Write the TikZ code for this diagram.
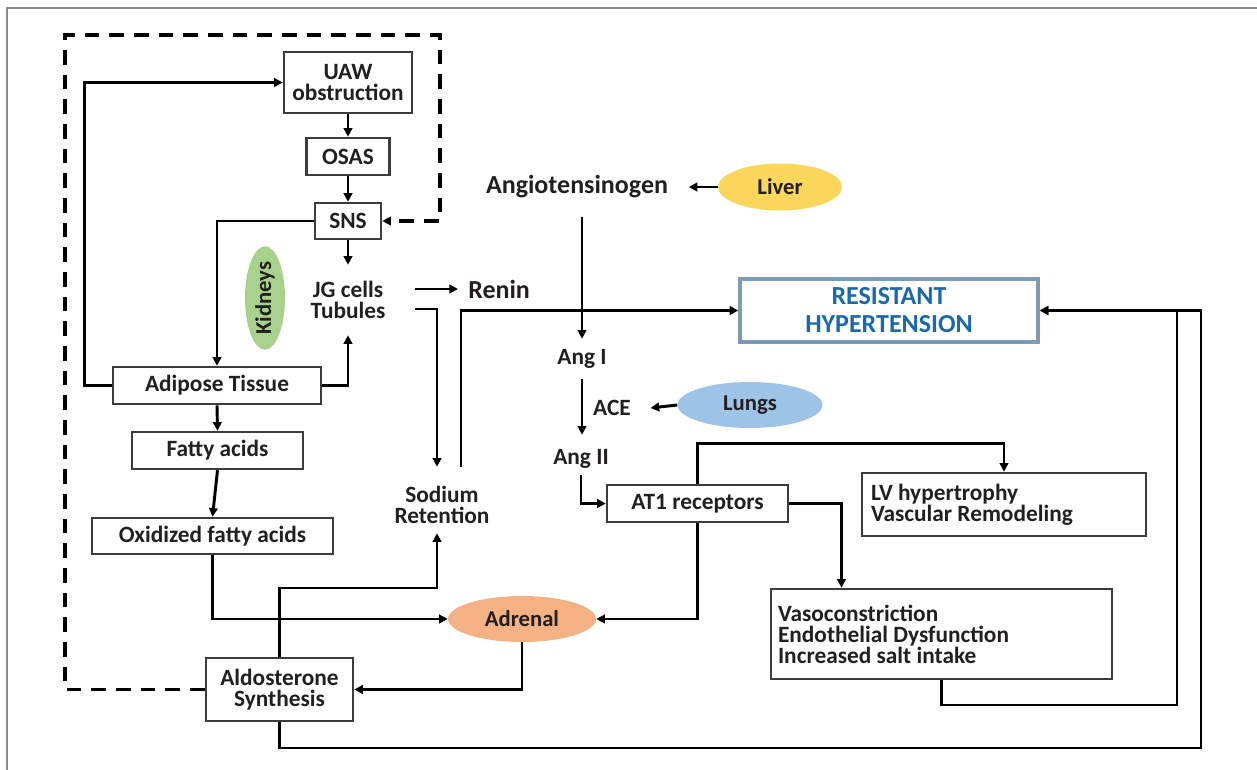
\documentclass[tikz,border=0pt]{standalone}
\usepackage{fontspec}
\setmainfont{Carlito}
\usetikzlibrary{arrows.meta,shapes.geometric}
\definecolor{txt}{RGB}{35,31,32}
\definecolor{boxc}{RGB}{60,60,60}
\definecolor{resc}{RGB}{125,155,180}
\definecolor{resblue}{RGB}{25,105,175}
\definecolor{kidc}{RGB}{169,209,142}
\definecolor{adrc}{RGB}{244,177,131}
\definecolor{livc}{RGB}{250,214,90}
\definecolor{lungc}{RGB}{157,195,230}
\definecolor{framec}{RGB}{140,140,140}
\newcommand{\fb}{\fontsize{17.5}{15.75}\selectfont\bfseries\lineskiplimit=-20pt}
\newcommand{\fe}{\fontsize{17}{15.75}\selectfont\bfseries}
\newcommand{\fbig}{\fontsize{19.5}{21}\selectfont\bfseries\lineskiplimit=-20pt}
\tikzset{
  sz/.style n args={2}{minimum width=#1*0.75pt, minimum height=#2*0.75pt},
  box/.style={draw=boxc, line width=1.9pt, fill=white, text=txt, font=\fb, align=flush center, inner sep=0pt},
  resbox/.style={draw=resc, line width=2.6pt, fill=white, text=resblue, font=\fbig, align=flush center, inner sep=0pt},
  tx/.style={text=txt, font=\fb, align=flush center, inner sep=0pt},
  ell/.style={ellipse, inner sep=0pt, text=txt, font=\fe},
  arr/.style={line width=2.2pt, draw=black, -{Triangle[length=6.5pt,width=6.5pt]}},
  dsh/.style={line width=2.5pt, draw=black, dash pattern=on 11pt off 7.5pt, -{Triangle[length=6.5pt,width=6.5pt]}},
  framel/.style={draw=framec, line width=1.5pt}
}
\begin{document}
\begin{tikzpicture}[x=0.75pt,y=-0.75pt]
\useasboundingbox (0,0) rectangle (1257,770);
\draw[framel] (7,770) -- (7,8) -- (1257,8);

% nodes
\node[box, sz={128}{61}] (uaw) at (348,82.5) {UAW\\obstruction};
\node[box, sz={83}{37}] (osas) at (348,156.5) {OSAS};
\node[box, sz={66}{36}] (sns) at (348,221) {SNS};
\node[tx, sz={1}{70}, inner xsep=21.75pt] (jg) at (348,300) {JG cells\\Tubules};
\node[ell, fill=kidc, sz={90}{40}, rotate=90] (kid) at (265,298) {Kidneys};
\node[tx, anchor=west, inner xsep=7.5pt, font=\fbig] (renin) at (458,289) {Renin};
\node[box, sz={208}{37}] (adip) at (217,385.5) {Adipose Tissue};
\node[box, sz={171}{37}] (fa) at (217.5,450.5) {Fatty acids};
\node[box, sz={241}{36}] (oxfa) at (212.5,536) {Oxidized fatty acids};
\node[tx, sz={1}{76}] (sodium) at (442,505) {Sodium\\Retention};
\node[box, sz={147}{63}] (ald) at (279.5,689.5) {Aldosterone\\Synthesis};
\node[ell, fill=adrc, sz={148}{46}] (adr) at (522,619) {Adrenal};
\node[tx, font=\fbig, sz={1}{60}, inner xsep=15.4pt] (ang) at (577,187) {Angiotensinogen};
\node[ell, fill=livc, sz={124}{47}] (liver) at (780,187) {Liver};
\node[resbox, sz={298}{63}] (res) at (889,310.5) {RESISTANT\\HYPERTENSION};
\node[tx, sz={1}{40}] (ang1) at (582,359) {Ang I};
\node[tx, inner xsep=14.6pt] (ace) at (612,408) {ACE};
\node[ell, fill=lungc, sz={145}{46}] (lungs) at (750,405) {Lungs};
\node[tx, sz={1}{48}] (ang2) at (581,459) {Ang II};
\node[box, sz={181}{37}] (at1) at (697.5,503.5) {AT1 receptors};
\node[box, sz={284}{63}, align=flush left, text width=199.5pt, inner xsep=6.75pt] (lv) at (1004,504.5) {LV hypertrophy\\Vascular Remodeling};
\node[box, sz={341}{90}, align=flush left, text width=245.25pt, inner xsep=5.25pt] (vaso) at (941.5,634) {Vasoconstriction\\Endothelial Dysfunction\\Increased salt intake};

% corner coordinates
\coordinate (dA) at (65,689.5);
\coordinate (dB) at (65,35);
\coordinate (dC) at (440,35);
\coordinate (dD) at (440,221);
\coordinate (v1) at (1177,705);
\coordinate (v2) at (1201,748);

% dashed feedback
\draw[dsh] (ald.west) -- (dA) -- (dB) -- (dC) -- (dD) -- (sns.east);

% connectors
\draw[arr] (uaw.south) -- (osas.north);
\draw[arr] (osas.south) -- (sns.north);
\draw[arr] (sns.south) -- (jg.north);
\draw[arr] (sns.west) -| (adip.north);
\draw[arr] (adip.west) -- ++(-27,0) |- (uaw.west);
\draw[arr] (adip.east) -| (jg.south);
\draw[arr] (adip.south) -- (fa.north);
\draw[arr] (fa.south) -- (oxfa.north);
\draw[arr] (oxfa.south) |- (adr.west);
\draw[arr] (jg.east |- renin.west) -- (renin.west);
\draw[arr] (jg.east |- 0,309) -| ([xshift=-3.75pt]sodium.north);
\draw[arr] ([xshift=14.25pt]sodium.north) |- (res.west);
\draw[arr] (ald.north) -- (ald.north |- 0,588) -| ([xshift=-3.75pt,yshift=7.5pt]sodium.south);
\draw[arr] (liver.west) -- (ang.east);
\draw[arr] (ang.south -| ang1.north) -- (ang1.north);
\draw[arr] (ang1.south) -- (ang1.south |- ang2.north);
\draw[arr] ([yshift=6pt]ang2.south) |- (at1.west);
\draw[arr] (lungs.west) -- (ace.east);
\draw[arr] (at1.north) -- ++(0,-40) -| (lv.north);
\draw[arr] (at1.east) -| ([xshift=-75pt]vaso.north);
\draw[arr] (at1.south) |- (adr.east);
\draw[arr] (adr.south) |- (ald.east);
\draw[arr] (vaso.south) |- (v1) |- (res.east);
\draw[arr] (ald.south) |- (v2) |- (res.east);
\end{tikzpicture}
\end{document}
